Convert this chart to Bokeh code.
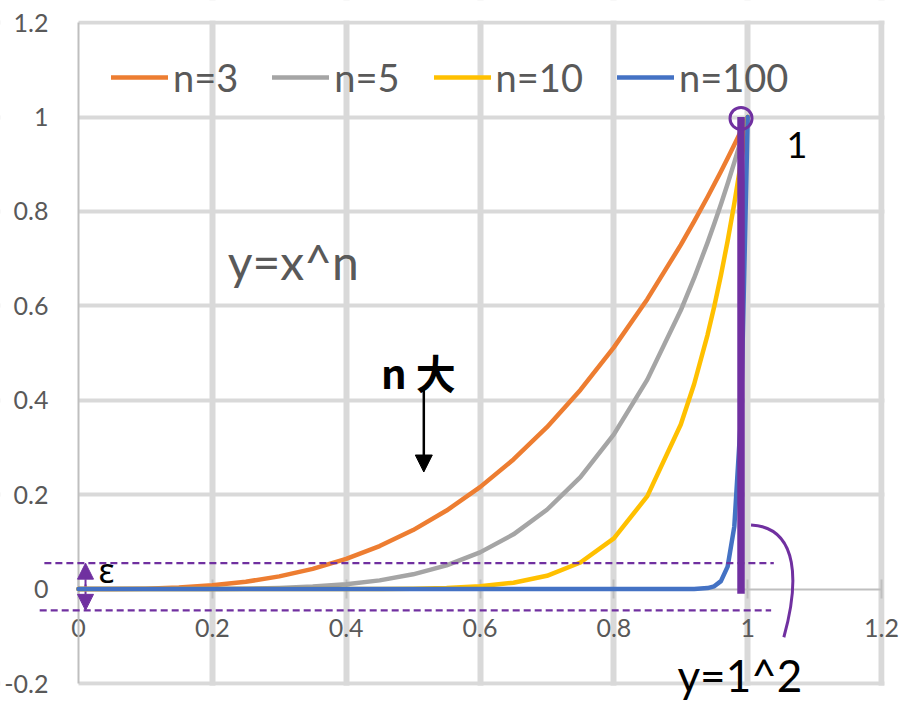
from bokeh.plotting import figure
from bokeh.models import (FixedTicker, Legend, LegendItem, Label, Arrow,
                          NormalHead, BoxAnnotation, Range1d)
from bokeh.embed import file_html
from bokeh.resources import INLINE

# ---------------- data ----------------
x_vals = [0, 0.05, 0.1, 0.15, 0.2, 0.25, 0.3, 0.35, 0.4, 0.45, 0.5, 0.55,
          0.6, 0.65, 0.7, 0.75, 0.8, 0.85, 0.9, 0.92, 0.94, 0.95, 0.96,
          0.97, 0.98, 0.99, 1.0]
y_n3 = [0, 0.0001, 0.001, 0.0034, 0.008, 0.0156, 0.027, 0.0429, 0.064,
        0.0911, 0.125, 0.1664, 0.216, 0.2746, 0.343, 0.4219, 0.512, 0.6141,
        0.729, 0.7787, 0.8306, 0.8574, 0.8847, 0.9127, 0.9412, 0.9703, 1.0]
y_n5 = [0, 0, 0.00001, 0.0001, 0.0003, 0.001, 0.0024, 0.0053, 0.0102,
        0.0185, 0.0313, 0.0503, 0.0778, 0.116, 0.1681, 0.2373, 0.3277,
        0.4437, 0.5905, 0.6591, 0.7339, 0.7738, 0.8154, 0.8587, 0.9039,
        0.951, 1.0]
y_n10 = [0, 0, 0, 0, 0, 0, 0.00001, 0.00003, 0.0001, 0.0003, 0.001, 0.0025,
         0.006, 0.0135, 0.0282, 0.0563, 0.1074, 0.1969, 0.3487, 0.4344,
         0.5386, 0.5987, 0.6648, 0.7374, 0.8171, 0.9044, 1.0]
y_n100 = [0, 0, 0, 0, 0, 0, 0, 0, 0, 0, 0, 0, 0, 0, 0, 0, 0, 0, 0,
          0.0002, 0.0021, 0.0059, 0.0169, 0.0476, 0.1326, 0.366, 1.0]
series_labels = ["n=3", "n=5", "n=10", "n=100"]
series_colors = ["#ED7D31", "#A5A5A5", "#FFC000", "#4472C4"]

x_ticks = [0, 0.2, 0.4, 0.6, 0.8, 1.0, 1.2]
x_tick_labels = ["0", "0.2", "0.4", "0.6", "0.8", "1", "1.2"]
y_ticks = [-0.2, 0, 0.2, 0.4, 0.6, 0.8, 1.0, 1.2]
y_tick_labels = ["-0.2", "0", "0.2", "0.4", "0.6", "0.8", "1", "1.2"]
x_grid_ticks = [0.2, 0.4, 0.6, 0.8, 1.0, 1.2]
y_grid_ticks = [-0.2, 0.2, 0.4, 0.6, 0.8, 1.0, 1.2]

PURPLE = "#7030A0"
GRAY_TXT = "#595959"

p = figure(width=908, height=702, output_backend="svg", toolbar_location=None,
           x_range=Range1d(-0.11656, 1.24028), y_range=Range1d(-0.2402, 1.24677),
           min_border=0)
p.outline_line_color = None
p.background_fill_color = "white"
p.border_fill_color = "white"

# axes placed at the origin
p.xaxis.fixed_location = 0
p.xaxis.bounds = (0, 1.2)
p.xaxis.ticker = FixedTicker(ticks=x_ticks)
p.xaxis.major_label_overrides = dict(zip(x_ticks, x_tick_labels))
p.xaxis.axis_line_color = "#BFBFBF"
p.xaxis.axis_line_width = 2
p.xaxis.major_tick_line_color = "#BFBFBF"
p.xaxis.major_tick_line_width = 2
p.xaxis.major_tick_in = 10
p.xaxis.major_tick_out = 9
p.xaxis.minor_tick_line_color = None
p.xaxis.major_label_standoff = 21
p.xaxis.major_label_text_font = "Lato"
p.xaxis.major_label_text_font_size = "25px"
p.xaxis.major_label_text_color = GRAY_TXT

p.yaxis.fixed_location = 0
p.yaxis.bounds = (-0.2, 1.2)
p.yaxis.ticker = FixedTicker(ticks=y_ticks)
p.yaxis.major_label_overrides = dict(zip(y_ticks, y_tick_labels))
p.yaxis.axis_line_color = "#BFBFBF"
p.yaxis.axis_line_width = 2
p.yaxis.major_tick_in = 0
p.yaxis.major_tick_out = 0
p.yaxis.minor_tick_line_color = None
p.yaxis.major_label_standoff = 30
p.yaxis.major_label_text_font = "Lato"
p.yaxis.major_label_text_font_size = "25px"
p.yaxis.major_label_text_color = GRAY_TXT

p.xgrid.ticker = FixedTicker(ticks=x_grid_ticks)
p.xgrid.grid_line_color = "#D9D9D9"
p.xgrid.grid_line_width = 6
p.ygrid.ticker = FixedTicker(ticks=y_grid_ticks)
p.ygrid.grid_line_color = "#D9D9D9"
p.ygrid.grid_line_width = 4

# keep the gridlines inside the 0..1.2 x -0.2..1.2 plot area
for kw in (dict(right=0), dict(left=1.2045), dict(bottom=1.2045),
           dict(top=-0.2045)):
    p.add_layout(BoxAnnotation(fill_color="white", fill_alpha=1,
                               line_alpha=0, level="underlay", **kw))

# ---------------- series ----------------
renderers = []
for ys, col in zip([y_n3, y_n5, y_n10, y_n100], series_colors):
    r = p.line(x_vals, ys, line_color=col, line_width=4.5, line_cap="round",
               line_join="round", level="overlay")
    renderers.append(r)

legend = Legend(items=[LegendItem(label=l, renderers=[r])
                       for l, r in zip(series_labels, renderers)],
                orientation="horizontal", location=(111, 602),
                glyph_width=57, glyph_height=20, label_standoff=5, spacing=34,
                padding=0, margin=0, background_fill_alpha=0,
                border_line_alpha=0, label_text_font="Lato",
                label_text_font_size="38px", label_text_color=GRAY_TXT)
p.add_layout(legend)

# ---------------- purple annotations ----------------
p.line([-0.051, 1.039], [0.055, 0.055], line_color=PURPLE, line_width=2.2,
       line_dash="7 4", level="overlay")
p.line([-0.058, 1.035], [-0.045, -0.045], line_color=PURPLE, line_width=2.2,
       line_dash="7 4", level="overlay")
p.line([0.99, 0.99], [-0.01, 1.0], line_color=PURPLE, line_width=7.5,
       level="overlay")
p.scatter([0.99], [0.997], marker="circle", size=22, fill_alpha=0,
          line_color=PURPLE, line_width=3, level="overlay")
p.bezier(x0=[1.005], y0=[0.136], x1=[1.054], y1=[-0.102],
         cx0=[1.078], cy0=[0.13], cx1=[1.076], cy1=[0.01],
         line_color=PURPLE, line_width=3, level="overlay")
p.add_layout(Arrow(end=NormalHead(size=16, fill_color=PURPLE, line_color=PURPLE),
                   x_start=0.0105, y_start=0.0, x_end=0.0105, y_end=0.055,
                   line_color=PURPLE, line_width=2))
p.add_layout(Arrow(end=NormalHead(size=16, fill_color=PURPLE, line_color=PURPLE),
                   x_start=0.0105, y_start=0.01, x_end=0.0105, y_end=-0.045,
                   line_color=PURPLE, line_width=2))

# black arrow
p.add_layout(Arrow(end=NormalHead(size=17, fill_color="black", line_color="black"),
                   x_start=0.516, y_start=0.4216, x_end=0.516, y_end=0.248,
                   line_color="black", line_width=2.5))

# ---------------- texts ----------------
p.add_layout(Label(x=0.223, y=0.693, text="y=x^n", text_font="Lato",
                   text_font_size="48px", text_color=GRAY_TXT,
                   text_baseline="alphabetic"))
p.add_layout(Label(x=0.508, y=0.46, text="n 大", text_font="Noto Sans CJK SC",
                   text_font_style="bold", text_font_size="40px",
                   text_color="black", text_align="center",
                   text_baseline="alphabetic"))
p.add_layout(Label(x=0.03, y=0.04, text="ε", text_font="Noto Sans",
                   text_font_size="34px", text_color="black",
                   text_baseline="alphabetic"))
p.add_layout(Label(x=1.058, y=0.9407, text="1", text_font="Lato",
                   text_font_size="36px", text_color="black",
                   text_baseline="alphabetic"))
p.add_layout(Label(x=0.895, y=-0.182, text="y=1^2", text_font="Lato",
                   text_font_size="44px", text_color="black",
                   text_baseline="alphabetic"))

open("out.html", "w").write(file_html(p, INLINE))
